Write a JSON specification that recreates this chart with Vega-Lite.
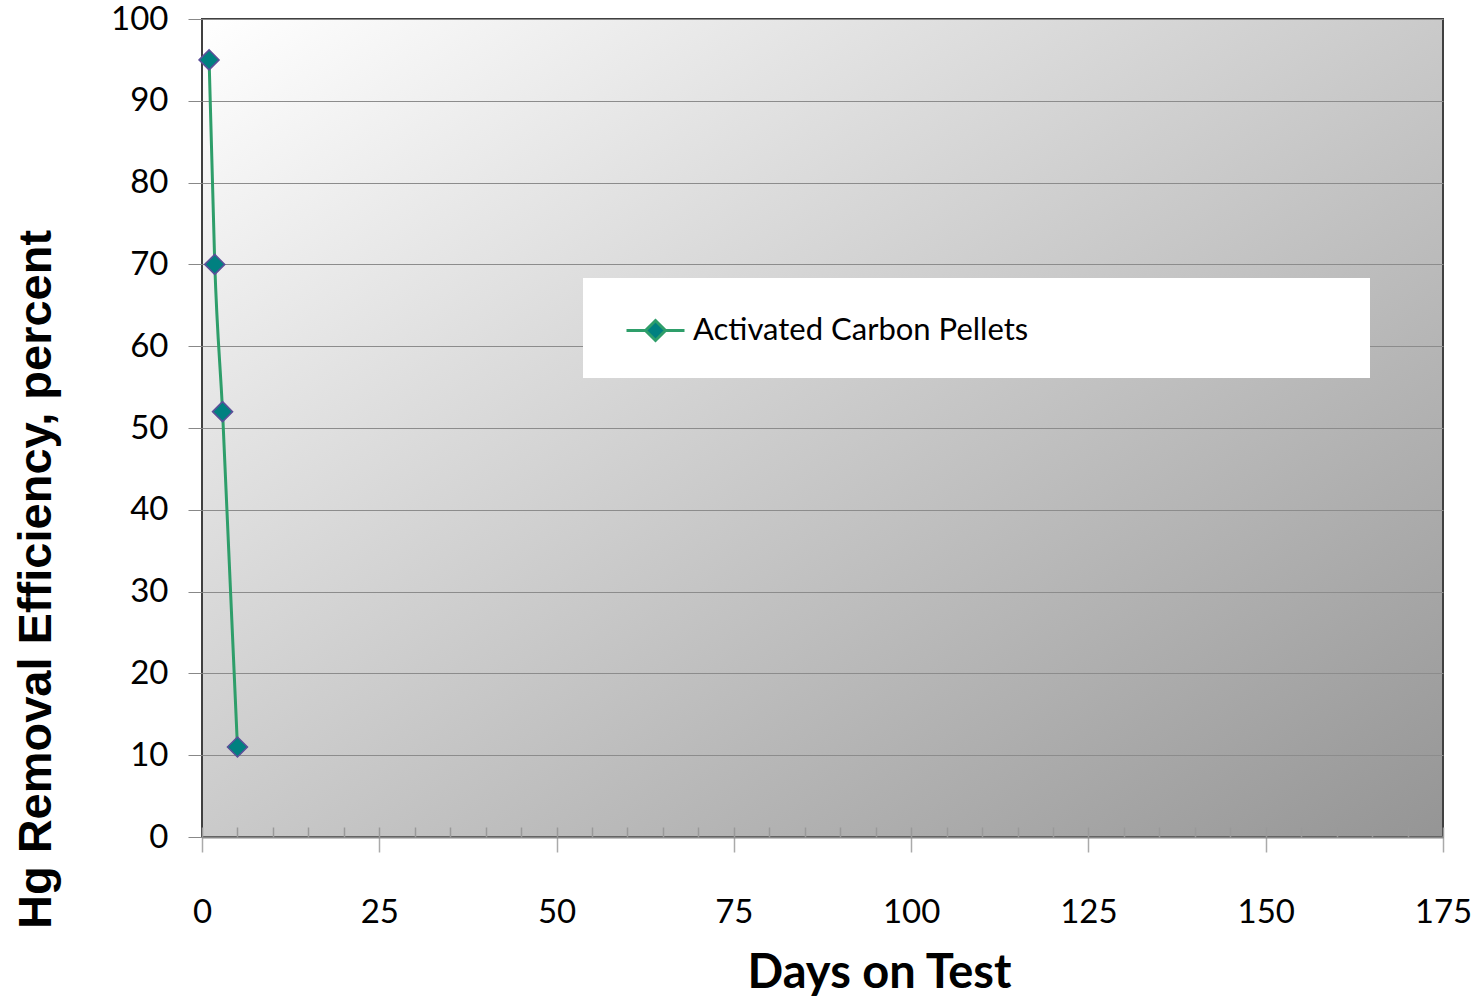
{
  "$schema": "https://vega.github.io/schema/vega-lite/v6.json",
  "width": 1241,
  "height": 818,
  "autosize": "none",
  "padding": {"left": 202, "top": 19, "right": 40, "bottom": 162},
  "background": "white",
  "config": {
    "view": {
      "fill": {"gradient": "linear", "x1": 0, "y1": 0, "x2": 1, "y2": 1, "stops": [{"offset": 0, "color": "#ffffff"}, {"offset": 1, "color": "#959595"}]},
      "stroke": "#404040",
      "strokeWidth": 2
    }
  },
  "data": {
    "values": [
      {"days": 1.0, "eff": 95, "series": "Activated Carbon Pellets"},
      {"days": 1.8, "eff": 70, "series": "Activated Carbon Pellets"},
      {"days": 2.9, "eff": 52, "series": "Activated Carbon Pellets"},
      {"days": 5.0, "eff": 11, "series": "Activated Carbon Pellets"}
    ]
  },
  "resolve": {"axis": {"x": "independent"}},
  "layer": [
    {
      "mark": {"type": "line", "interpolate": "monotone", "color": "#2e9e6a", "strokeWidth": 3},
      "encoding": {
        "x": {
          "field": "days", "type": "quantitative",
          "scale": {"domain": [0, 175], "nice": false, "zero": false},
          "axis": {
            "orient": "bottom",
            "values": [0, 25, 50, 75, 100, 125, 150, 175],
            "grid": false,
            "tickSize": 15, "tickColor": "#aaaaaa", "tickWidth": 1.5,
            "domainColor": "#888888", "domainWidth": 2,
            "labelFont": "Lato", "labelFontSize": 33, "labelColor": "#000000", "labelPadding": 44,
            "labelFlush": false, "labelOverlap": false,
            "title": "Days on Test",
            "titleFont": "Lato", "titleFontSize": 47, "titleFontWeight": "bold", "titleColor": "#000000",
            "titleX": 677, "titleY": 150, "titleAlign": "center", "titleBaseline": "alphabetic", "titleAnchor": null
          }
        },
        "y": {
          "field": "eff", "type": "quantitative",
          "scale": {"domain": [0, 100], "nice": false},
          "axis": {
            "values": [0, 10, 20, 30, 40, 50, 60, 70, 80, 90, 100],
            "grid": true, "gridColor": "#8c8c8c", "gridWidth": 1,
            "domain": false,
            "tickSize": 14, "tickColor": "#888888",
            "labelFont": "Lato", "labelFontSize": 33, "labelColor": "#000000", "labelPadding": 20,
            "labelFlush": false, "labelOverlap": false,
            "title": "Hg Removal Efficiency, percent",
            "titleFont": "Liberation Sans", "titleFontSize": 47, "titleFontWeight": "bold", "titleColor": "#000000",
            "titleAngle": -90, "titleX": -152, "titleY": 560, "titleAlign": "center", "titleBaseline": "alphabetic", "titleAnchor": null
          }
        }
      }
    },
    {
      "mark": {"type": "point", "shape": "diamond", "filled": true, "size": 400, "stroke": "#5b4f99", "strokeWidth": 1.5, "opacity": 1},
      "encoding": {
        "x": {
          "field": "days", "type": "quantitative",
          "scale": {"domain": [0, 175], "nice": false, "zero": false},
          "axis": {
            "orient": "bottom",
            "values": [0, 5, 10, 15, 20, 25, 30, 35, 40, 45, 50, 55, 60, 65, 70, 75, 80, 85, 90, 95, 100, 105, 110, 115, 120, 125, 130, 135, 140, 145, 150, 155, 160, 165, 170, 175],
            "grid": false, "domain": false, "labels": false,
            "tickSize": -10, "tickColor": "#999999", "tickWidth": 1.5,
            "title": null
          }
        },
        "y": {
          "field": "eff", "type": "quantitative",
          "scale": {"domain": [0, 100], "nice": false},
          "axis": {
            "values": [0, 10, 20, 30, 40, 50, 60, 70, 80, 90, 100],
            "grid": true, "gridColor": "#8c8c8c", "gridWidth": 1,
            "domain": false,
            "tickSize": 14, "tickColor": "#888888",
            "labelFont": "Lato", "labelFontSize": 33, "labelColor": "#000000", "labelPadding": 20,
            "labelFlush": false, "labelOverlap": false,
            "title": "Hg Removal Efficiency, percent",
            "titleFont": "Liberation Sans", "titleFontSize": 47, "titleFontWeight": "bold", "titleColor": "#000000",
            "titleAngle": -90, "titleX": -152, "titleY": 560, "titleAlign": "center", "titleBaseline": "alphabetic", "titleAnchor": null
          }
        },
        "color": {
          "field": "series", "type": "nominal",
          "scale": {"range": ["#008080"]},
          "legend": {
            "orient": "none", "legendX": 381, "legendY": 259,
            "title": null,
            "fillColor": "#ffffff", "strokeColor": null,
            "padding": 31,
            "symbolType": "M-0.45,0H0.5M1.5,0H2.45M0.5,0L1,-0.5L1.5,0L1,0.5Z",
            "symbolSize": 1600,
            "symbolFillColor": "#008080",
            "symbolStrokeColor": "#2e9e6a",
            "symbolStrokeWidth": 3,
            "symbolOpacity": 1,
            "labelFont": "Lato", "labelFontSize": 31, "labelColor": "#000000",
            "labelOffset": 36, "labelLimit": 0,
            "labelExpr": "datum.label + '\u2003\u2003\u2003\u2003\u2003\u2003\u2003\u2003\u2003\u2003\u2003\u2003\u2002\u2002\u200b'"
          }
        }
      }
    }
  ]
}
